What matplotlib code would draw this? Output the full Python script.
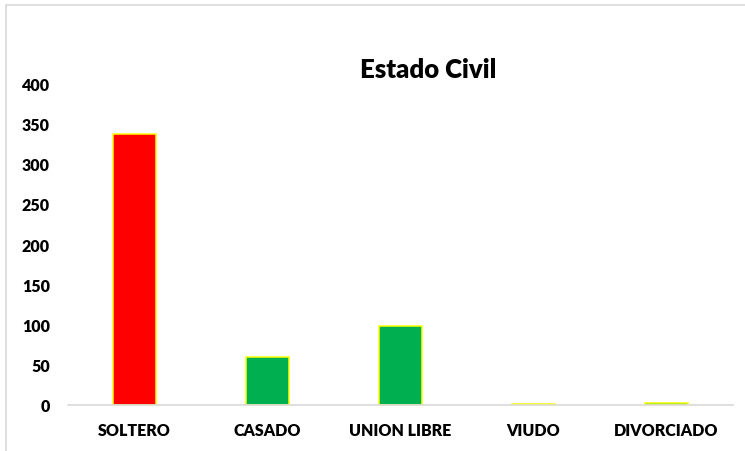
import matplotlib
matplotlib.use("Agg")
from matplotlib import pyplot as plt
from matplotlib.patches import Rectangle

categories = ['SOLTERO', 'CASADO', 'UNION LIBRE', 'VIUDO', 'DIVORCIADO']
counts = [337, 60, 98, 1, 3]
bar_colors = ['#FF0000', '#00B050', '#00B050', '#00B050', '#00B050']
y_ticks = [0, 50, 100, 150, 200, 250, 300, 350, 400]

plt.rcParams['font.family'] = ['Lato', 'DejaVu Sans']
plt.rcParams['font.weight'] = 'heavy'

fig = plt.figure(figsize=(7.45, 4.52), dpi=100)
ax = fig.add_axes([0.0913, 0.1018, 0.8927, 0.7122])

# outer chart border (cropped at right/bottom like the screenshot)
fig.patches.append(Rectangle((6 / 745, -0.1), 1.2, 1 - 6 / 452 + 0.1,
                             transform=fig.transFigure, fill=False,
                             edgecolor='#d9d9d9', linewidth=1.2))

ax.bar(categories, counts, width=0.32, color=bar_colors,
       edgecolor='#FFFF00', linewidth=1.1)

ax.set_ylim(0, 400)
ax.set_xlim(-0.5, 4.5)
ax.set_yticks(y_ticks)
ax.tick_params(axis='both', length=0, labelsize=11.5, colors='#000000')
ax.tick_params(axis='y', pad=13)
ax.tick_params(axis='x', pad=12)
for lbl in ax.get_xticklabels() + ax.get_yticklabels():
    lbl.set_fontweight('heavy')

for side in ['top', 'right', 'left']:
    ax.spines[side].set_visible(False)
ax.spines['bottom'].set_color('#d9d9d9')
ax.spines['bottom'].set_linewidth(1.2)

fig.text(428 / 745, 1 - 70 / 452, 'Estado Civil', ha='center', va='center',
         fontsize=18.5, fontweight='heavy', color='#000000')

fig.savefig('out.png', dpi=100, facecolor='white')
